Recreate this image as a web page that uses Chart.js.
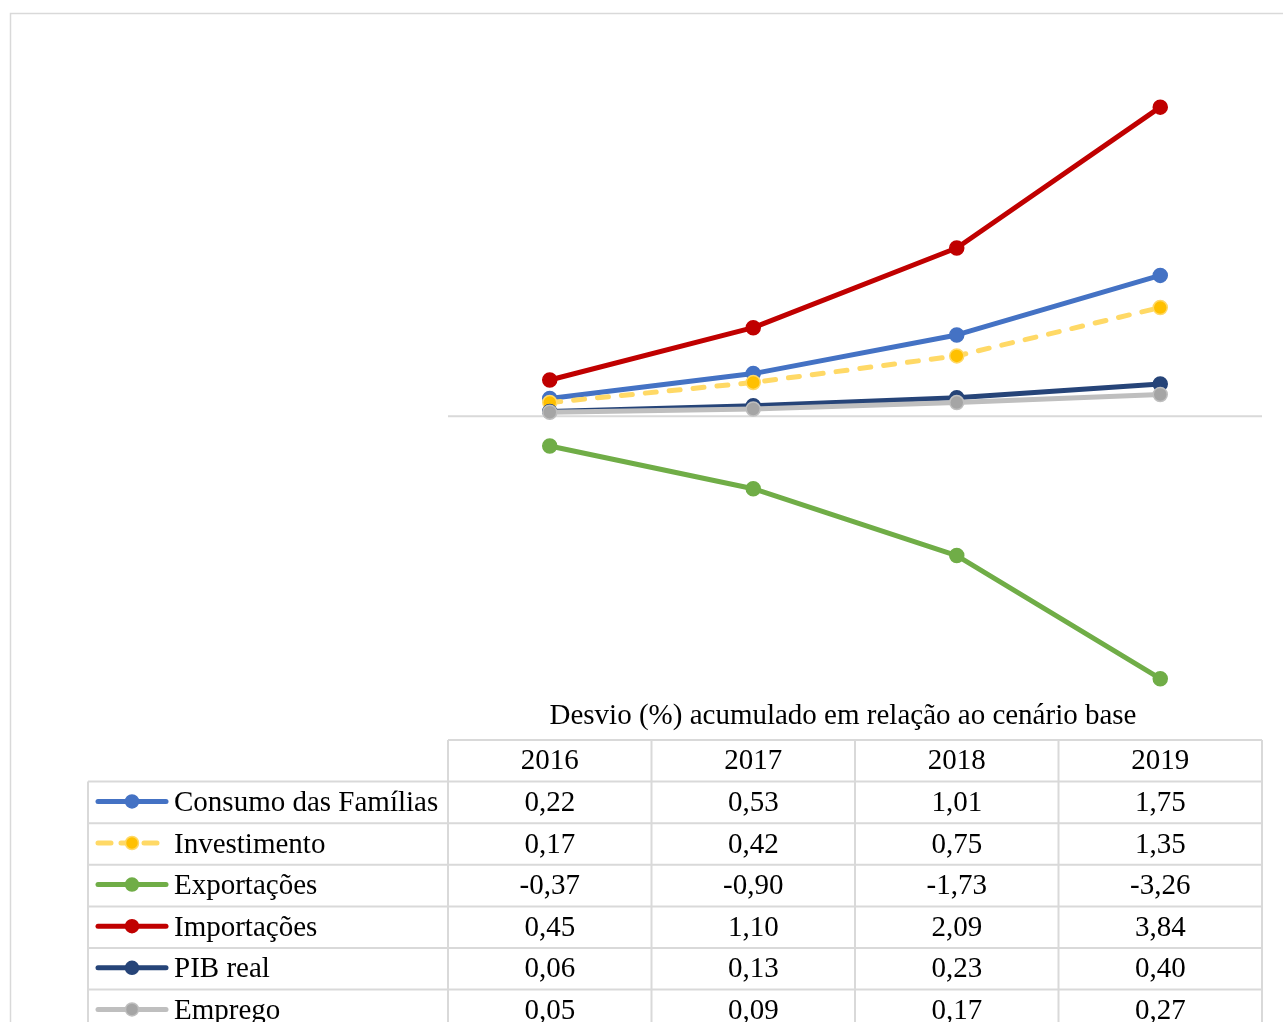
<!DOCTYPE html>
<html lang="pt">
<head>
<meta charset="utf-8">
<script src="https://cdn.jsdelivr.net/npm/chart.js@4.4.1/dist/chart.umd.min.js"></script>
<style>
  html, body { margin: 0; padding: 0; background: #ffffff; }
  #wrap { width: 1283px; height: 1022px; position: relative; }
</style>
</head>
<body>
<div id="wrap"><canvas id="c" width="1283" height="1022"></canvas></div>
<script>
// Anos e séries: desvio (%) acumulado em relação ao cenário base
const years = ['2016', '2017', '2018', '2019'];
const consumo = [0.22, 0.53, 1.01, 1.75];
const investimento = [0.17, 0.42, 0.75, 1.35];
const exportacoes = [-0.37, -0.90, -1.73, -3.26];
const importacoes = [0.45, 1.10, 2.09, 3.84];
const pibReal = [0.06, 0.13, 0.23, 0.40];
const emprego = [0.05, 0.09, 0.17, 0.27];
const seriesNames = ['Consumo das Famílias', 'Investimento', 'Exportações', 'Importações', 'PIB real', 'Emprego'];
const tableTitle = 'Desvio (%) acumulado em relação ao cenário base';

const FONT = '"Liberation Serif", "Times New Roman", serif';
const GRID = '#d9d9d9';

const styles = [
  { line: '#4472C4', fill: '#4472C4', rim: '#4472C4', dash: [] },
  { line: '#FFD966', fill: '#FFC000', rim: '#FFD966', dash: [11, 13] },
  { line: '#70AD47', fill: '#70AD47', rim: '#70AD47', dash: [] },
  { line: '#C00000', fill: '#C00000', rim: '#C00000', dash: [] },
  { line: '#264478', fill: '#264478', rim: '#264478', dash: [] },
  { line: '#BFBFBF', fill: '#A5A5A5', rim: '#BFBFBF', dash: [] }
];
const values = [consumo, investimento, exportacoes, importacoes, pibReal, emprego];

const datasets = values.map((v, i) => ({
  label: seriesNames[i],
  data: v,
  borderColor: styles[i].line,
  borderWidth: 5,
  borderDash: styles[i].dash,
  borderCapStyle: 'round',
  borderJoinStyle: 'round',
  pointRadius: 7,
  pointBackgroundColor: styles[i].fill,
  pointBorderColor: styles[i].rim,
  pointBorderWidth: 1.5,
  pointHoverRadius: 7,
  tension: 0,
  fill: false,
  order: values.length - i
}));

const fmt = v => v.toFixed(2).replace('.', ',');

// Moldura, linha do zero, título e tabela de dados com legenda
const tablePlugin = {
  id: 'dataTable',
  beforeDatasetsDraw(chart) {
    const ctx = chart.ctx;
    const area = chart.chartArea;
    const y0 = chart.scales.y.getPixelForValue(0);
    ctx.save();
    ctx.strokeStyle = GRID;
    ctx.lineWidth = 2;
    ctx.beginPath();
    ctx.moveTo(area.left, y0);
    ctx.lineTo(area.right, y0);
    ctx.stroke();
    ctx.restore();
  },
  afterDraw(chart) {
    const ctx = chart.ctx;
    const area = chart.chartArea;
    const n = years.length;
    const colW = (area.right - area.left) / n;
    const headTop = 740;
    const rowH = 41.6;
    const legLeft = 88;
    const bottom = 1030;

    ctx.save();
    // outer frame
    ctx.strokeStyle = GRID;
    ctx.lineWidth = 1.5;
    ctx.strokeRect(10.5, 13.5, 1400, 1200);

    // table title
    ctx.fillStyle = '#000000';
    ctx.font = '29px ' + FONT;
    ctx.textAlign = 'center';
    ctx.textBaseline = 'middle';
    ctx.fillText(tableTitle, 843, 716);

    // grid lines
    ctx.strokeStyle = GRID;
    ctx.lineWidth = 2;
    ctx.beginPath();
    ctx.moveTo(area.left, headTop);
    ctx.lineTo(area.right, headTop);
    for (let r = 1; r <= seriesNames.length; r++) {
      const y = headTop + r * rowH;
      ctx.moveTo(legLeft, y);
      ctx.lineTo(area.right, y);
    }
    for (let c = 0; c <= n; c++) {
      const x = area.left + c * colW;
      ctx.moveTo(x, headTop);
      ctx.lineTo(x, bottom);
    }
    ctx.moveTo(legLeft, headTop + rowH);
    ctx.lineTo(legLeft, bottom);
    ctx.stroke();

    // header
    for (let c = 0; c < n; c++) {
      const cx = chart.scales.x.getPixelForValue(c);
      ctx.fillText(years[c], cx, headTop + rowH / 2 + 1);
    }

    // rows
    for (let r = 0; r < seriesNames.length; r++) {
      const cy = headTop + (r + 1) * rowH + rowH / 2 + 1;
      for (let c = 0; c < n; c++) {
        const cx = chart.scales.x.getPixelForValue(c);
        ctx.textAlign = 'center';
        ctx.fillStyle = '#000000';
        ctx.fillText(fmt(values[r][c]), cx, cy);
      }
      // legend key
      const st = styles[r];
      const ly = cy - 2;
      ctx.strokeStyle = st.line;
      ctx.lineWidth = 5;
      ctx.lineCap = 'round';
      ctx.setLineDash(st.dash.length ? [13, 10] : []);
      ctx.beginPath();
      ctx.moveTo(98, ly);
      ctx.lineTo(166, ly);
      ctx.stroke();
      ctx.setLineDash([]);
      ctx.beginPath();
      ctx.arc(132, ly, 6.5, 0, Math.PI * 2);
      ctx.fillStyle = st.fill;
      ctx.fill();
      ctx.lineWidth = 1.5;
      ctx.strokeStyle = st.rim;
      ctx.stroke();
      // legend text
      ctx.fillStyle = '#000000';
      ctx.textAlign = 'left';
      ctx.fillText(seriesNames[r], 174, cy);
    }
    ctx.restore();
  }
};

new Chart(document.getElementById('c'), {
  type: 'line',
  data: { labels: years, datasets },
  options: {
    responsive: false,
    animation: false,
    layout: { padding: { left: 448, right: 21, top: 54, bottom: 324 } },
    plugins: { legend: { display: false }, tooltip: { enabled: false }, title: { display: false } },
    scales: {
      x: { type: 'category', offset: true, display: false },
      y: { min: -3.5, max: 4.5, display: false }
    }
  },
  plugins: [tablePlugin]
});
</script>
</body>
</html>
